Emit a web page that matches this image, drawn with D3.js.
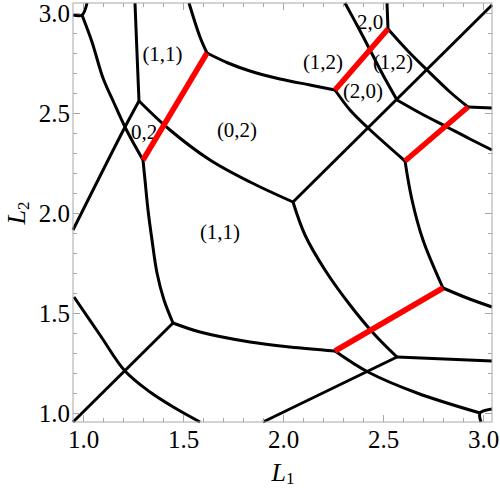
<!DOCTYPE html>
<html>
<head>
<meta charset="utf-8">
<script src="https://cdn.jsdelivr.net/npm/d3@7"></script>
<style>
  body { margin: 0; background: #fff; }
  svg { display: block; }
  .tick text { font-family: "Liberation Serif", "Times New Roman", serif; font-size: 25px; fill: #000; }
  .tick line { stroke: #a8a8a8; }
</style>
</head>
<body>
<svg id="chart"></svg>
<script>
const width = 500, height = 488;

// plot range (L1, L2)
const xMin = 0.95, xMax = 3.045, yMin = 0.955, yMax = 3.05;

const minorTicks = d3.range(10, 31).map(function (d) { return d / 10; });
const majorTicks = [1.0, 1.5, 2.0, 2.5, 3.0];

// black boundary curves, points as [L1, L2]
const cornerTL = [[0.95, 2.99], [0.995, 2.99], [1.02, 3.05]];
const curveA = [[0.995, 2.99], [1.045, 2.855], [1.10, 2.675], [1.155, 2.55], [1.21, 2.43], [1.255, 2.345], [1.30, 2.265]];
const curveV1 = [[1.26, 3.05], [1.27, 2.80], [1.28, 2.56]];
const lineJ1 = [[1.28, 2.56], [1.21, 2.43], [0.95, 1.915]];
const curveB = [[1.28, 2.56], [1.435, 2.415], [1.635, 2.265], [1.835, 2.155], [2.05, 2.055]];
const curveV2 = [[1.53, 3.05], [1.585, 2.88], [1.62, 2.80]];
const curveK = [[1.62, 2.80], [1.725, 2.75], [1.835, 2.71], [1.985, 2.67], [2.135, 2.64], [2.26, 2.615]];
const curveV3 = [[2.525, 2.92], [2.52, 3.05]];
const curveM = [[2.525, 2.92], [2.62, 2.815], [2.72, 2.715], [2.835, 2.605], [2.925, 2.53]];
const stubM = [[2.925, 2.53], [3.045, 2.525]];
const curveCtop = [[2.31, 3.05], [2.375, 2.93], [2.435, 2.815], [2.50, 2.69], [2.57, 2.565]];
const curveCbot = [[2.57, 2.565], [2.685, 2.50], [2.82, 2.43], [2.935, 2.37], [3.045, 2.315]];
const diagonal = [[2.05, 2.055], [3.045, 3.04]];
const curveD = [[2.26, 2.615], [2.335, 2.515], [2.42, 2.43], [2.61, 2.26]];
const curveE = [[2.61, 2.26], [2.645, 2.065], [2.70, 1.865], [2.80, 1.625]];
const stubE = [[2.80, 1.625], [2.92, 1.575], [3.045, 1.53]];
const curveH = [[2.05, 2.055], [2.11, 1.89], [2.21, 1.715], [2.335, 1.54], [2.46, 1.39], [2.57, 1.28]];
const curveF = [[1.45, 1.45], [1.585, 1.405], [1.835, 1.355], [2.035, 1.33], [2.26, 1.31]];
const curveG = [[2.26, 1.31], [2.425, 1.205], [2.67, 1.10], [2.985, 1.0]];
const cornerBR = [[3.045, 1.02], [2.985, 1.0], [2.99, 0.955]];
const lineS = [[1.90, 0.955], [2.57, 1.28]];
const stubS = [[2.57, 1.28], [3.045, 1.26]];
const curveJ3 = [[1.30, 2.265], [1.31, 2.165], [1.325, 2.015], [1.345, 1.865], [1.37, 1.70], [1.405, 1.565], [1.45, 1.45]];
const lineJ3 = [[1.45, 1.45], [0.95, 0.955]];
const curveI = [[0.955, 1.58], [1.085, 1.39], [1.21, 1.21], [1.335, 1.105], [1.46, 1.025], [1.585, 0.955]];

// red segments
const red1 = [[1.30, 2.265], [1.62, 2.80]];
const red2 = [[2.26, 2.615], [2.525, 2.92]];
const red3 = [[2.925, 2.53], [2.61, 2.26]];
const red4 = [[2.80, 1.625], [2.26, 1.31]];

// region labels
const labelText = ["(1,1)", "0,2", "(0,2)", "(1,1)", "2,0", "(1,2)", "(1,2)", "(2,0)"];
const labelL1 = [1.3975, 1.305, 1.77, 1.685, 2.435, 2.20, 2.55, 2.40];
const labelL2 = [2.795, 2.405, 2.415, 1.905, 2.957, 2.755, 2.755, 2.61];

const blackCurves = [cornerTL, curveA, curveV1, lineJ1, curveB, curveV2, curveK, curveV3, curveM, stubM,
    curveCtop, curveCbot, diagonal, curveD, curveE, stubE, curveH, curveF, curveG, cornerBR,
    lineS, stubS, curveJ3, lineJ3, curveI];
const redLines = [red1, red2, red3, red4];

const x = d3.scaleLinear().domain([xMin, xMax]).range([73, 492]);
const y = d3.scaleLinear().domain([yMin, yMax]).range([422, 3]);

const svg = d3.select("#chart")
    .attr("width", width)
    .attr("height", height);

// labels sit under the curves
svg.append("g").selectAll("text")
    .data(labelText)
    .enter().append("text")
    .attr("x", function (d, i) { return x(labelL1[i]); })
    .attr("y", function (d, i) { return y(labelL2[i]); })
    .attr("dy", "0.33em")
    .attr("text-anchor", "middle")
    .style("font-family", "'Liberation Serif', 'Times New Roman', serif")
    .style("font-size", "21px")
    .text(function (d) { return d; });

const line = d3.line()
    .x(function (d) { return x(d[0]); })
    .y(function (d) { return y(d[1]); })
    .curve(d3.curveCatmullRom.alpha(0.5));

const plot = svg.append("g");

plot.selectAll(".boundary")
    .data(blackCurves)
    .enter().append("path")
    .attr("class", "boundary")
    .attr("d", line)
    .attr("fill", "none")
    .attr("stroke", "#000")
    .attr("stroke-width", 3)
    .attr("stroke-linejoin", "round");

plot.selectAll(".redseg")
    .data(redLines)
    .enter().append("path")
    .attr("class", "redseg")
    .attr("d", line)
    .attr("fill", "none")
    .attr("stroke", "#ff0000")
    .attr("stroke-width", 5.5);

// frame
svg.append("rect")
    .attr("x", x(xMin))
    .attr("y", y(yMax))
    .attr("width", x(xMax) - x(xMin))
    .attr("height", y(yMin) - y(yMax))
    .attr("fill", "none")
    .attr("stroke", "#a8a8a8")
    .attr("stroke-width", 1);

function addAxis(axis, tx, ty) {
    const g = svg.append("g")
        .attr("transform", "translate(" + tx + "," + ty + ")")
        .call(axis);
    g.select(".domain").remove();
    return g;
}

const fmt = d3.format(".1f");

addAxis(d3.axisBottom(x).tickValues(minorTicks).tickSize(-4).tickFormat(""), 0, y(yMin));
addAxis(d3.axisBottom(x).tickValues(majorTicks).tickSize(-7).tickPadding(8).tickFormat(fmt), 0, y(yMin));
addAxis(d3.axisTop(x).tickValues(minorTicks).tickSize(-4).tickFormat(""), 0, y(yMax));
addAxis(d3.axisTop(x).tickValues(majorTicks).tickSize(-7).tickFormat(""), 0, y(yMax));
addAxis(d3.axisLeft(y).tickValues(minorTicks).tickSize(-4).tickFormat(""), x(xMin), 0);
addAxis(d3.axisLeft(y).tickValues(majorTicks).tickSize(-7).tickPadding(3).tickFormat(fmt), x(xMin), 0);
addAxis(d3.axisRight(y).tickValues(minorTicks).tickSize(-4).tickFormat(""), x(xMax), 0);
addAxis(d3.axisRight(y).tickValues(majorTicks).tickSize(-7).tickFormat(""), x(xMax), 0);

// axis titles
const xTitle = svg.append("text")
    .attr("x", 283)
    .attr("y", 481)
    .attr("text-anchor", "middle")
    .style("font-family", "'Liberation Serif', 'Times New Roman', serif")
    .style("font-size", "26px");
xTitle.append("tspan").style("font-style", "italic").text("L");
xTitle.append("tspan").attr("dy", 3).style("font-size", "17px").text("1");

const yTitle = svg.append("text")
    .attr("transform", "translate(25,213) rotate(-90)")
    .attr("text-anchor", "middle")
    .style("font-family", "'Liberation Serif', 'Times New Roman', serif")
    .style("font-size", "26px");
yTitle.append("tspan").style("font-style", "italic").text("L");
yTitle.append("tspan").attr("dy", 4).style("font-size", "17px").text("2");
</script>
</body>
</html>
